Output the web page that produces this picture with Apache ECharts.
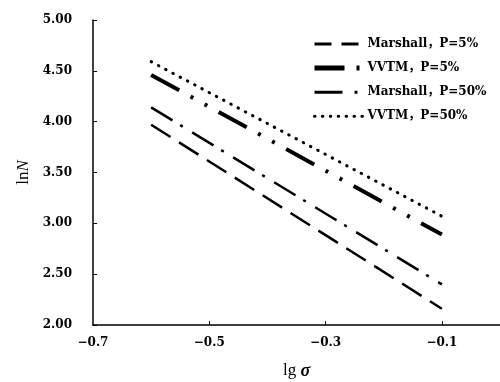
<!DOCTYPE html>
<html>
<head>
<meta charset="utf-8">
<script src="https://cdn.jsdelivr.net/npm/echarts@6/dist/echarts.min.js"></script>
<style>
  html, body { margin: 0; padding: 0; background: #fff; }
  #chart { width: 500px; height: 382px; }
</style>
</head>
<body>
<div id="chart"></div>
<script>
// lg sigma at the two ends of each fitted line
const lgSigma = [-0.6, -0.1]

const seriesNames = ['Marshall，P=5%', 'VVTM，P=5%', 'Marshall，P=50%', 'VVTM，P=50%']
const marshall5 = [3.97, 2.16]
const vvtm5 = [4.46, 2.89]
const marshall50 = [4.14, 2.40]
const vvtm50 = [4.59, 3.07]

const yTicks = [2.0, 2.5, 3.0, 3.5, 4.0, 4.5, 5.0]
const xTicks = [-0.7, -0.5, -0.3, -0.1]

const LABEL_FONT = "'DejaVu Serif', 'Noto Sans CJK SC'"
const NAME_FONT = 'Liberation Serif'

function pairs(values) {
  return lgSigma.map((x, i) => [x, values[i]])
}

// dash patterns
const styles = [
  { width: 2.5, type: [23, 10], cap: 'butt' },
  { width: 4, type: [32, 13, 3, 13, 3, 13], cap: 'butt' },
  { width: 2.5, type: [25, 9, 3, 11], cap: 'butt' },
  { width: 3, type: [0.5, 7.7], cap: 'round' }
]
const legendStyles = [
  { width: 3, type: [17, 10] },
  { width: 5, type: [30, 12, 3, 20] },
  { width: 3, type: [28, 12, 3, 20] },
  { width: 3, type: [0.5, 7.4], cap: 'round' }
]

const chart = echarts.init(document.getElementById('chart'))

chart.setOption({
  animation: false,
  backgroundColor: '#fff',
  grid: { left: 93, right: 0, top: 20, bottom: 57, outerBoundsMode: 'none' },
  legend: {
    orient: 'vertical',
    left: 307,
    top: 33,
    itemWidth: 48,
    itemHeight: 14,
    itemGap: 12.1,
    itemStyle: { opacity: 0 },
    textStyle: { fontFamily: LABEL_FONT, fontWeight: 'bold', fontSize: 12, color: '#000' },
    data: seriesNames.map((name, i) => ({
      name,
      lineStyle: Object.assign({ color: '#000' }, legendStyles[i])
    }))
  },
  xAxis: {
    type: 'value',
    min: -0.7,
    max: 0,
    interval: 0.2,
    name: '{a|lg }{b|σ}',
    nameLocation: 'middle',
    nameGap: 37,
    nameTextStyle: {
      rich: {
        a: { fontFamily: NAME_FONT, fontSize: 17, color: '#000' },
        b: { fontFamily: NAME_FONT, fontSize: 18, fontStyle: 'italic', fontWeight: 'bold', color: '#000' }
      }
    },
    axisLine: { onZero: false, lineStyle: { color: '#000', width: 1.5 } },
    axisTick: { inside: true, length: 4, customValues: [-0.5, -0.3, -0.1], lineStyle: { color: '#000' } },
    splitLine: { show: false },
    axisLabel: {
      customValues: xTicks,
      margin: 12,
      fontFamily: LABEL_FONT, fontWeight: 'bold', fontSize: 12, color: '#000',
      formatter: v => v.toFixed(1).replace('-', '\u2212')
    }
  },
  yAxis: {
    type: 'value',
    min: yTicks[0],
    max: yTicks[yTicks.length - 1],
    interval: 0.5,
    name: '{a|ln}{b|N}',
    nameLocation: 'middle',
    nameGap: 56,
    nameTextStyle: {
      rich: {
        a: { fontFamily: NAME_FONT, fontSize: 17, color: '#000' },
        b: { fontFamily: NAME_FONT, fontSize: 17, fontStyle: 'italic', color: '#000' }
      }
    },
    axisLine: { show: true, onZero: false, lineStyle: { color: '#000', width: 1.5 } },
    axisTick: { show: true, inside: true, length: 4, lineStyle: { color: '#000' } },
    splitLine: { show: false },
    axisLabel: {
      margin: 21,
      fontFamily: LABEL_FONT, fontWeight: 'bold', fontSize: 12, color: '#000',
      formatter: v => v.toFixed(2)
    }
  },
  series: [marshall5, vvtm5, marshall50, vvtm50].map((vals, i) => ({
    name: seriesNames[i],
    type: 'line',
    symbol: 'none',
    data: pairs(vals),
    lineStyle: Object.assign({ color: '#000' }, styles[i]),
    itemStyle: { color: '#000' }
  }))
})
</script>
</body>
</html>
